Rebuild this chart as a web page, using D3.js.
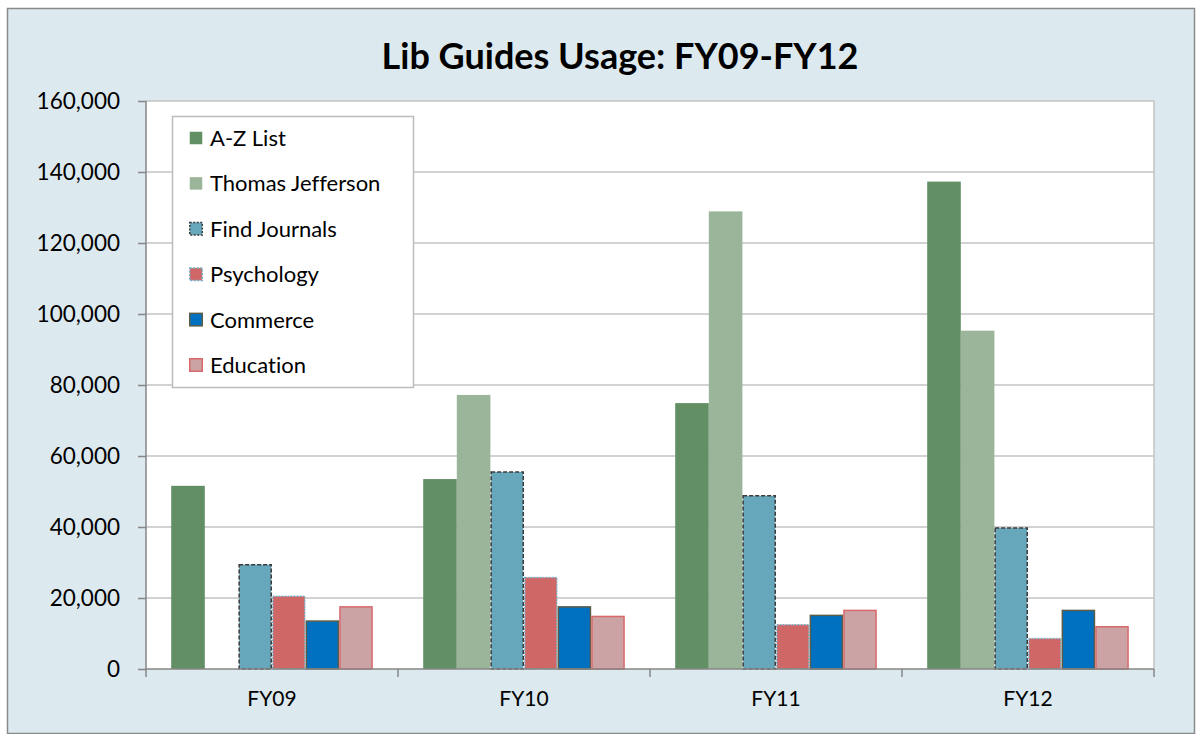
<!DOCTYPE html>
<html>
<head>
<meta charset="utf-8">
<script src="https://cdn.jsdelivr.net/npm/d3@7"></script>
<style>
  body { margin: 0; background: #fff; }
  text { font-family: Lato, "Open Sans", sans-serif; font-variant-ligatures: none; }
</style>
</head>
<body>
<script>
document.addEventListener('DOMContentLoaded', function() {

  var years = ['FY09', 'FY10', 'FY11', 'FY12'];
  var seriesNames = ['A-Z List', 'Thomas Jefferson', 'Find Journals', 'Psychology', 'Commerce', 'Education'];
  var azList = [51600, 53500, 74900, 137300];
  var thomasJefferson = [0, 77200, 128900, 95300];
  var findJournals = [29400, 55500, 48800, 39700];
  var psychology = [20500, 25800, 12500, 8600];
  var commerce = [13500, 17500, 15100, 16500];
  var education = [17500, 14800, 16500, 11900];
  var yTicks = [0, 20000, 40000, 60000, 80000, 100000, 120000, 140000, 160000];

  var allValues = [azList, thomasJefferson, findJournals, psychology, commerce, education];

  // fill / stroke per series
  var styles = [
    {fill: '#638f65', stroke: 'none'},
    {fill: '#9bb59b', stroke: 'none'},
    {fill: '#66a7bb', stroke: '#3b3b3b', dash: '4,2'},
    {fill: '#cf6767', stroke: '#6fb4cc', dash: '1.5,1.5'},
    {fill: '#0070c0', stroke: '#5d5d46'},
    {fill: '#cca3a4', stroke: '#d9686b'}
  ];

  var W = 1202, H = 734;
  var svg = d3.select('body').append('svg').attr('width', W).attr('height', H);

  svg.append('rect').attr('x', 7.5).attr('y', 8.5).attr('width', 1187).attr('height', 725)
    .attr('fill', '#dce9ef').attr('stroke', '#8a8a8a').attr('stroke-width', 1.5);

  var left = 146, right = 1154, top = 101, bottom = 669;

  var x0 = d3.scaleBand().domain(years).range([left, right]);
  var x1 = d3.scaleBand().domain(seriesNames).range([0, x0.bandwidth()]).paddingInner(0).paddingOuter(0.75);
  var y = d3.scaleLinear().domain([0, 160000]).range([bottom, top]);

  svg.append('rect').attr('x', left).attr('y', top).attr('width', right - left).attr('height', bottom - top)
    .attr('fill', '#fff');

  // gridlines
  svg.selectAll('.grid').data(yTicks.slice(1)).enter().append('line')
    .attr('x1', left).attr('x2', right)
    .attr('y1', function(d) { return y(d); }).attr('y2', function(d) { return y(d); })
    .attr('stroke', '#c3c3c3').attr('stroke-width', 1.5);
  svg.append('line').attr('x1', right).attr('x2', right).attr('y1', top).attr('y2', bottom)
    .attr('stroke', '#c3c3c3').attr('stroke-width', 1.5);

  // bars
  seriesNames.forEach(function(s, si) {
    var st = styles[si];
    svg.append('g').selectAll('rect').data(allValues[si]).enter().append('rect')
      .attr('x', function(d, i) { return x0(years[i]) + x1(s) + (st.stroke !== 'none' ? 0.75 : 0); })
      .attr('y', function(d) { return y(d); })
      .attr('width', x1.bandwidth() - (st.stroke !== 'none' ? 1.5 : 0))
      .attr('height', function(d) { return bottom - y(d); })
      .attr('fill', st.fill)
      .attr('stroke', st.stroke)
      .attr('stroke-width', 1.5)
      .attr('stroke-dasharray', st.dash || null)
      .style('display', function(d) { return d > 0 ? null : 'none'; });
  });

  // y axis
  var yAxis = d3.axisLeft(y).tickValues(yTicks).tickSize(8).tickPadding(18)
    .tickFormat(d3.format(','));
  var gy = svg.append('g').attr('transform', 'translate(' + left + ',0)').call(yAxis);
  gy.select('.domain').attr('stroke', '#868686').attr('stroke-width', 1.5).attr('d', 'M0,' + top + 'V' + bottom);
  gy.selectAll('.tick line').attr('stroke', '#868686').attr('stroke-width', 1.5);
  gy.selectAll('.tick text').attr('font-size', 22.5).attr('fill', '#000').attr('font-family', 'Lato, sans-serif');

  // x axis
  var gx = svg.append('g').attr('transform', 'translate(0,' + bottom + ')');
  gx.append('line').attr('x1', left).attr('x2', right).attr('stroke', '#868686').attr('stroke-width', 1.5);
  var bounds = years.map(function(d) { return x0(d); }).concat([right]);
  gx.selectAll('.xt').data(bounds).enter().append('line')
    .attr('x1', function(d) { return d; }).attr('x2', function(d) { return d; })
    .attr('y1', 0).attr('y2', 8).attr('stroke', '#868686').attr('stroke-width', 1.5);
  gx.selectAll('.xl').data(years).enter().append('text')
    .attr('x', function(d) { return x0(d) + x0.bandwidth() / 2; })
    .attr('y', 37).attr('text-anchor', 'middle').attr('font-size', 21).attr('fill', '#000')
    .text(function(d) { return d; });

  // title
  svg.append('text').attr('x', 620).attr('y', 69).attr('text-anchor', 'middle')
    .attr('font-size', 36).attr('font-weight', 'bold').attr('fill', '#000')
    .text('Lib Guides Usage: FY09-FY12');

  // legend
  var lg = svg.append('g');
  lg.append('rect').attr('x', 172.5).attr('y', 116.5).attr('width', 241).attr('height', 271)
    .attr('fill', '#fff').attr('stroke', '#bcbcbc').attr('stroke-width', 1.5);
  var items = lg.selectAll('.item').data(seriesNames).enter().append('g')
    .attr('transform', function(d, i) { return 'translate(189,' + (138 + i * 45.4) + ')'; });
  items.append('rect').attr('x', 0.75).attr('y', -6.25).attr('width', 12.5).attr('height', 12.5)
    .attr('fill', function(d, i) { return styles[i].fill; })
    .attr('stroke', function(d, i) { return styles[i].stroke; })
    .attr('stroke-width', 1.5)
    .attr('stroke-dasharray', function(d, i) { return styles[i].dash ? '2,1.5' : null; });
  items.append('text').attr('x', 21).attr('y', 8).attr('font-size', 22).attr('fill', '#000')
    .text(function(d) { return d; });

});
</script>
</body>
</html>
